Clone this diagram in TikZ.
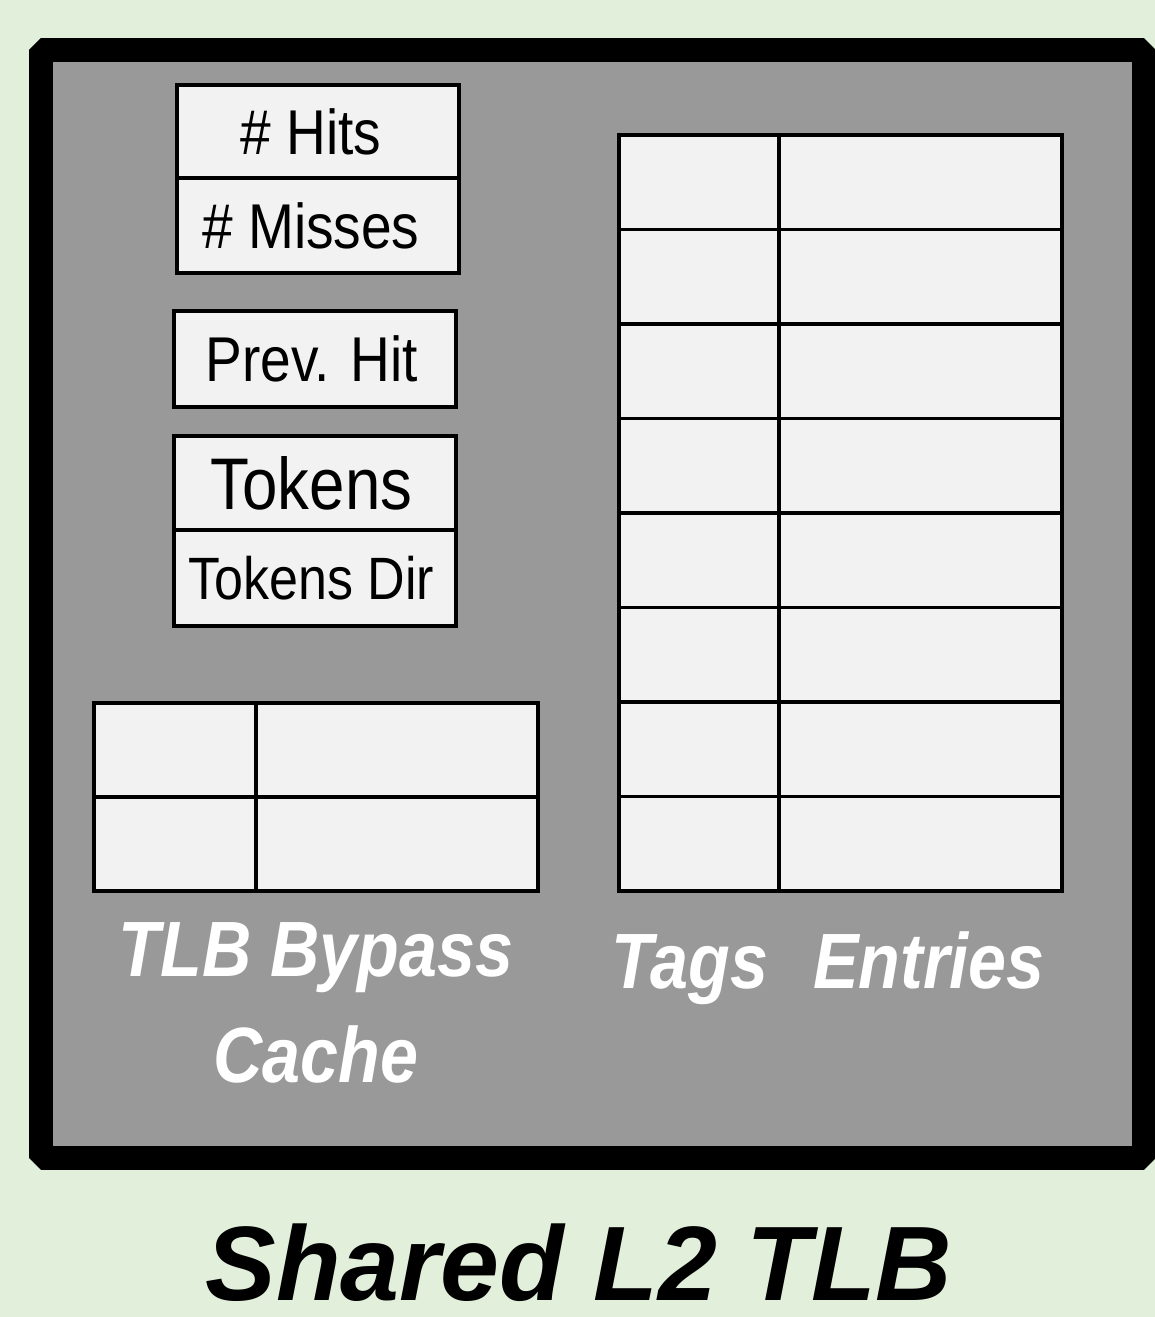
\documentclass[tikz,border=0pt]{standalone}
\usepackage{fontspec}
\setmainfont{Liberation Sans}
\newfontfamily\narrowsans[FakeStretch=0.87]{Liberation Sans}
\usetikzlibrary{positioning}
\definecolor{PaleGreen}{HTML}{E2EFDA}
\definecolor{PanelGray}{HTML}{999999}
\definecolor{CellFill}{HTML}{F2F2F2}
\tikzset{
  panel/.style={draw=black, fill=PanelGray, line width=.24cm, line join=bevel, inner sep=0pt, outer sep=0pt},
  cell/.style={draw=black, fill=CellFill, line width=1pt, inner sep=0pt, outer sep=0pt, font=\narrowsans\fontsize{18}{20}\selectfont},
  lbl/.style={text=white, align=center, font=\narrowsans\bfseries\itshape\fontsize{22.3}{30}\selectfont}
}
\begin{document}
\begin{tikzpicture}[x=.01cm,y=-.01cm]
\fill[PaleGreen] (0,0) rectangle (1155,1317);
\useasboundingbox (0,0) rectangle (1155,1317);
\node[panel, minimum width=11.03cm, minimum height=11.08cm] (l2tlb) at (592.5,604) {};
% counters
\node[cell, minimum width=2.82cm, minimum height=.93cm] (hits) at (318,131.5) {\# Hits\kern4pt};
\node[cell, minimum width=2.82cm, minimum height=.95cm, below=0pt of hits] (misses) {\# Misses\kern4pt};
\node[cell, minimum width=2.82cm, minimum height=.96cm] (prevhit) at (315,359) {Prev. Hit\kern2pt};
\node[cell, minimum width=2.82cm, minimum height=.94cm, font=\narrowsans\fontsize{20.8}{24}\selectfont] (tokens) at (315,483) {Tokens\kern2pt};
\node[cell, minimum width=2.82cm, minimum height=.96cm, font=\narrowsans\fontsize{17}{20}\selectfont, below=0pt of tokens] (tokensdir) {Tokens Dir\kern2pt};
% bypass cache
\foreach \r/\y in {0/750,1/844}{
  \node[cell, minimum width=1.62cm, minimum height=.94cm] (bkey\r) at (175,\y) {};
  \node[cell, minimum width=2.82cm, minimum height=.94cm, right=0pt of bkey\r] (bval\r) {};
}
% tags and entries
\foreach \r in {0,...,7}{
  \node[cell, minimum width=1.60cm, minimum height=.945cm] (tag\r) at (699,{182.25+94.5*\r}) {};
  \node[cell, minimum width=2.83cm, minimum height=.945cm, right=0pt of tag\r] (entry\r) {};
}
\node[lbl] (bypasslbl) at (316,1003) {TLB Bypass\\Cache};
\node[lbl, anchor=base] (tagslbl) at (690,988) {Tags};
\node[lbl, anchor=base] (entrieslbl) at (929,988) {Entries};
\node[anchor=base, font=\bfseries\itshape\fontsize{30.1}{36}\selectfont] (title) at (579,1300) {Shared L2 TLB};
\end{tikzpicture}
\end{document}
